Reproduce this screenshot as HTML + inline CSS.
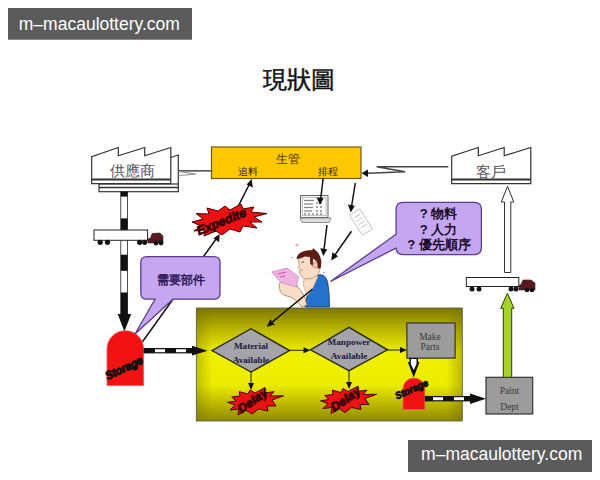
<!DOCTYPE html>
<html><head><meta charset="utf-8">
<style>
html,body{margin:0;padding:0;background:#fff;width:600px;height:480px;overflow:hidden;}
body{position:relative;font-family:"Liberation Sans",sans-serif;}
.wm{position:absolute;background:#5b5b5b;color:#fff;font-size:19px;line-height:32px;height:32px;text-align:center;}
svg{position:absolute;left:0;top:0;}
</style></head><body>
<svg width="600" height="480" viewBox="0 0 600 480" font-family="Liberation Sans, sans-serif">
<defs>
  <linearGradient id="pg" x1="0" y1="0" x2="0" y2="1">
    <stop offset="0" stop-color="#7e7800"/>
    <stop offset="0.2" stop-color="#bdb900"/>
    <stop offset="0.4" stop-color="#f0f000"/>
    <stop offset="0.68" stop-color="#ecec00"/>
    <stop offset="1" stop-color="#908a00"/>
  </linearGradient>
  <linearGradient id="pgh" x1="0" y1="0" x2="1" y2="0">
    <stop offset="0" stop-color="#706800" stop-opacity="0.35"/>
    <stop offset="0.06" stop-color="#706800" stop-opacity="0"/>
    <stop offset="0.94" stop-color="#706800" stop-opacity="0"/>
    <stop offset="1" stop-color="#706800" stop-opacity="0.4"/>
  </linearGradient>
  <marker id="ah" markerWidth="8" markerHeight="8" refX="7" refY="4" orient="auto" markerUnits="userSpaceOnUse">
    <path d="M0,0 L8,4 L0,8 z" fill="#111"/>
  </marker>
</defs>

<!-- title -->
<text x="298.5" y="88" font-size="23.5" text-anchor="middle" fill="#111" stroke="#111" stroke-width="0.5">現狀圖</text>

<!-- supplier factory -->
<g fill="#fff" stroke="#333" stroke-width="1.2">
  <path d="M170.8,157.5 L178.3,155 L178.3,188" fill="none"/>
  <rect x="99" y="184" width="79.3" height="7.7"/>
  <path d="M91.7,183.7 L91.7,156.7 L118.3,147.5 L118.3,155.8 L144.7,147.5 L144.7,155.8 L170.8,147.5 L170.8,183.7 Z"/>
  <line x1="91.7" y1="179.5" x2="170.8" y2="179.5" stroke-width="2"/>
  <line x1="99" y1="187.5" x2="178.3" y2="187.5" stroke-width="1.5"/>
</g>
<text x="132" y="176" font-size="15" text-anchor="middle" fill="#555">供應商</text>

<!-- customer factory -->
<g fill="#fff" stroke="#333" stroke-width="1.2">
  <path d="M451.7,183.7 L451.7,156.3 L478.3,147.5 L478.3,155.8 L504.2,147.5 L504.2,155.8 L530.8,147.5 L530.8,183.7 Z"/>
  <line x1="451.7" y1="179.5" x2="530.8" y2="179.5" stroke-width="2"/>
</g>
<text x="491" y="176.5" font-size="15" text-anchor="middle" fill="#555">客戶</text>

<!-- production control box -->
<rect x="211.5" y="147" width="149.5" height="31.5" fill="#fdc800" stroke="#6e5a10" stroke-width="1.2"/>
<text x="288" y="162.5" font-size="12" text-anchor="middle" fill="#4a3a00">生管</text>
<text x="248" y="175" font-size="9.5" text-anchor="middle" fill="#2e2400">追料</text>
<text x="328" y="175" font-size="9.5" text-anchor="middle" fill="#2e2400">排程</text>

<!-- info lines -->
<line x1="178.3" y1="170.8" x2="211.5" y2="170.8" stroke="#222" stroke-width="1.3"/>
<path d="M178.5,171.5 L196,174.2 L178.5,175.5" fill="none" stroke="#999" stroke-width="1.2"/>
<path d="M448.3,166.7 L376.7,166.7 L405,171.7 L368,173.3" fill="none" stroke="#444" stroke-width="1.4"/>
<path d="M368,169.5 L361.5,173.3 L368,177 z" fill="#111"/>


<!-- supplier pole (black/white) -->
<g>
  <rect x="120.8" y="191.7" width="6.8" height="122.5" fill="#fff" stroke="#222" stroke-width="0.8"/>
  <rect x="120.8" y="191.7" width="6.8" height="4.9" fill="#111"/>
  <rect x="120.8" y="218.4" width="6.8" height="11.6" fill="#111"/>
  <rect x="120.8" y="254.7" width="6.8" height="16.1" fill="#111"/>
  <rect x="120.8" y="292.5" width="6.8" height="22" fill="#111"/>
  <path d="M117.7,314 L131.2,314 L124.4,331.5 Z" fill="#111"/>
</g>
<!-- left truck -->
<g>
  <rect x="94" y="230" width="53.6" height="10.3" fill="#fff" stroke="#222" stroke-width="1"/>
  <circle cx="100.2" cy="242.3" r="2.6" fill="#111"/>
  <circle cx="107.5" cy="242.3" r="2.6" fill="#111"/>
  <circle cx="139.6" cy="242.3" r="2.6" fill="#111"/>
  <circle cx="144.7" cy="242.3" r="2.6" fill="#111"/>
  <path d="M147.6,239 L150.5,238 L152,233.5 L160,233 L163,236 L163,243 L148,243 Z" fill="#5a1820" stroke="#222" stroke-width="0.6"/>
  <circle cx="156" cy="243" r="2.4" fill="#111"/>
  <circle cx="161" cy="243" r="2.4" fill="#111"/>
</g>
<!-- right truck -->
<g>
  <rect x="466.3" y="277.5" width="52.5" height="9" fill="#fff" stroke="#222" stroke-width="1"/>
  <circle cx="472" cy="289" r="2.5" fill="#111"/>
  <circle cx="479" cy="289" r="2.5" fill="#111"/>
  <circle cx="511" cy="289" r="2.5" fill="#111"/>
  <circle cx="516" cy="289" r="2.5" fill="#111"/>
  <path d="M518.8,285.5 L521,284.5 L523,280 L531,280 L535,283 L535,290 L519,290 Z" fill="#5a1820" stroke="#222" stroke-width="0.6"/>
  <circle cx="527" cy="290" r="2.3" fill="#111"/>
  <circle cx="532" cy="290" r="2.3" fill="#111"/>
</g>
<!-- hollow arrow up to customer -->
<path d="M504.5,272.5 L504.5,202 L501.3,202 L507.5,186.3 L513.8,202 L510.8,202 L510.8,272.5 Z" fill="#fff" stroke="#333" stroke-width="1"/>

<!-- big panel -->
<rect x="196.3" y="308" width="266" height="113" fill="url(#pg)" stroke="#555" stroke-width="0.8"/>
<rect x="196.3" y="308" width="266" height="113" fill="url(#pgh)"/>


<!-- diamonds -->
<g stroke="#2a2a10" stroke-width="1.4">
  <path d="M212,350.6 L251,328.7 L289.6,350.6 L251,372 Z" fill="#a4a4aa"/>
  <path d="M310.4,349.8 L349,327.3 L387.5,349.8 L349,370.6 Z" fill="#a4a4aa"/>
</g>
<g font-family="Liberation Serif, serif" font-weight="bold" font-size="9.2" fill="#1a1a3a" text-anchor="middle">
  <text x="251" y="348.5">Material</text>
  <text x="251" y="362.5">Available</text>
  <text x="349" y="345">Manpower</text>
  <text x="349" y="359">Available</text>
</g>
<!-- connectors -->
<g stroke="#222" stroke-width="1" fill="#111">
  <line x1="289.6" y1="350.3" x2="305" y2="350.3"/>
  <path d="M303.5,347.3 L310.4,350.3 L303.5,353.3 Z" stroke="none"/>
  <line x1="387.5" y1="350" x2="401" y2="350"/>
  <path d="M400,347 L407,350 L400,353 Z" stroke="none"/>
  <line x1="251" y1="372" x2="251" y2="384"/>
  <path d="M248,383 L251,390 L254,383 Z" stroke="none"/>
  <line x1="349" y1="370.6" x2="349" y2="383"/>
  <path d="M346,382 L349,389 L352,382 Z" stroke="none"/>
</g>
<!-- make parts -->
<rect x="406.9" y="323" width="48.2" height="35.1" fill="#9c9c9c" stroke="#333" stroke-width="1.2"/>
<g font-family="Liberation Serif, serif" font-size="9.5" fill="#3a3a3a" text-anchor="middle">
  <text x="430" y="339.5">Make</text>
  <text x="430" y="350">Parts</text>
</g>
<!-- make parts down arrow -->
<path d="M409.5,358 L418,358 L418,362 L419.5,362 L413.7,377.5 L407.8,362 L409.5,362 Z" fill="#111"/>
<path d="M411,359 L416.5,359 L416.5,364 L413.7,370 L410.8,364 Z" fill="#fff"/>

<!-- paint dept -->
<rect x="486" y="377.3" width="46.7" height="36.7" fill="#9c9c9c" stroke="#333" stroke-width="1.2"/>
<g font-family="Liberation Serif, serif" font-size="9.5" fill="#3a3a3a" text-anchor="middle">
  <text x="509.5" y="394">Paint</text>
  <text x="509.5" y="410">Dept</text>
</g>
<!-- green arrow -->
<path d="M503.3,377.3 L503.3,308.3 L500.7,308.3 L507.4,293.3 L514,308.3 L511.7,308.3 L511.7,377.3 Z" fill="#a8d22a" stroke="#2a3a10" stroke-width="1"/>

<!-- storage 1 -->
<path d="M107,385.6 L107,349 A18.3,18.3 0 0 1 143.6,349 L143.6,385.6 Z" fill="#f21212" stroke="#e06060" stroke-width="0.8"/>
<text x="0" y="0" font-size="11.5" font-weight="bold" font-style="italic" fill="#111" stroke="#111" stroke-width="1.1" textLength="40" lengthAdjust="spacingAndGlyphs" transform="translate(107.5,380) rotate(-25)">Storage</text>
<!-- storage 2 -->
<path d="M403,409.5 L403,389 A10.9,10.9 0 0 1 424.8,389 L424.8,409.5 Z" fill="#f21212" stroke="#e06060" stroke-width="0.8"/>
<text x="0" y="0" font-size="10" font-weight="bold" font-style="italic" fill="#111" stroke="#111" stroke-width="0.9" textLength="35" lengthAdjust="spacingAndGlyphs" transform="translate(397,399.5) rotate(-24)">Storage</text>

<!-- dashed arrows -->
<g>
  <rect x="143.6" y="348" width="50" height="5.4" fill="#111"/>
  <rect x="155" y="349.2" width="10" height="3" fill="#fff"/>
  <rect x="176" y="349.2" width="10" height="3" fill="#fff"/>
  <path d="M192,345.8 L207.5,350.7 L192,355.6 Z" fill="#111"/>
  <rect x="424.8" y="396" width="48" height="5.4" fill="#111"/>
  <rect x="433" y="397.2" width="10" height="3" fill="#fff"/>
  <rect x="454" y="397.2" width="10" height="3" fill="#fff"/>
  <path d="M470,393.5 L486,398.7 L470,404 Z" fill="#111"/>
</g>


<!-- computer icon -->
<g>
  <rect x="300.5" y="195.5" width="27.5" height="22" fill="#f4f4f4" stroke="#666" stroke-width="1"/>
  <rect x="302.5" y="197.5" width="23.5" height="18" fill="#fff" stroke="#999" stroke-width="0.6"/>
  <g stroke="#888" stroke-width="1.3">
    <line x1="304" y1="200.5" x2="314" y2="200.5"/>
    <line x1="304" y1="204" x2="313" y2="204"/>
    <line x1="304" y1="207.5" x2="313" y2="207.5"/>
    <line x1="304" y1="211" x2="312" y2="211"/>
    <line x1="316" y1="203" x2="324" y2="203" stroke-dasharray="2,2"/>
    <line x1="316" y1="207" x2="324" y2="207" stroke-dasharray="2,2"/>
    <line x1="316" y1="211" x2="324" y2="211" stroke-dasharray="2,2"/>
    <line x1="304" y1="214" x2="324" y2="214" stroke-dasharray="2,2"/>
  </g>
  <path d="M300,218 L331,218 L329,222.5 L302,222.5 Z" fill="#ddd" stroke="#777" stroke-width="0.8"/>
</g>
<!-- paper icon -->
<g transform="translate(361,222) rotate(-33)">
  <rect x="-6" y="-12" width="12" height="24" fill="#fbfbfb" stroke="#c4c4c4" stroke-width="0.9"/>
  <g stroke="#d0d0d0" stroke-width="1">
    <line x1="-3.5" y1="-7" x2="3.5" y2="-7"/>
    <line x1="-3.5" y1="-3" x2="3.5" y2="-3"/>
    <line x1="-3.5" y1="1" x2="3.5" y2="1"/>
    <line x1="-3.5" y1="5" x2="3.5" y2="5"/>
  </g>
</g>

<!-- man -->
<g>
  <!-- shirt -->
  <path d="M305,307 L306.5,298 Q309,289 313,282 L318,275 Q324,273.5 327,280 Q329.5,289 329.5,307 Z" fill="#2472cc" stroke="#1a3560" stroke-width="0.8"/>
  <!-- neck -->
  <path d="M305,274 L314,272 L318,277 L312,290 L307,296 L303,284 Z" fill="#f7dcc6" stroke="#9a6a50" stroke-width="0.4"/>
  <!-- face -->
  <path d="M298.5,258 Q304,251 313,254 L320,262 Q321,270 318,275 Q312,280 305,279 L301,276 L299,272 L300,269.5 L298,267.5 L299.5,265.5 L298.5,262 Z" fill="#f7dcc6" stroke="#8a5a40" stroke-width="0.5"/>
  <path d="M301.5,262.5 l2.5,-0.8" stroke="#333" stroke-width="0.8"/>
  <path d="M300.5,270 l2,0.3" stroke="#8a5a40" stroke-width="0.6"/>
  <!-- hair -->
  <path d="M296.2,258.8 Q298,253.5 300.8,252.6 Q304,250.8 306.7,250.5 L312.5,250 L313,248 L316.7,251.3 Q320,254 321.3,261 Q321.5,266 320.4,268.5 L317.8,268.5 L317,261.5 L313,258.5 L312.8,266 L310.3,264 L310,257 L305,256.5 L300,258.5 Z" fill="#5c1c16"/>
  <!-- ear -->
  <ellipse cx="315.2" cy="265" rx="2.3" ry="3" fill="#f2cdb2" stroke="#8a5a40" stroke-width="0.5"/>
  <!-- arm/hands -->
  <path d="M279,284 Q281,280 287,281 L296,285 Q301,289 305,298 L307,305 L302,307 Q297,301 291,297 Q283,296 280,291 Z" fill="#f7dcc6" stroke="#8a5a40" stroke-width="0.6"/>
  <!-- pink paper -->
  <path d="M271.8,272 L287,268 L298.5,276.5 L296.4,287 L281,282.5 Z" fill="#f0b2e0" stroke="#c070b0" stroke-width="0.6"/>
  <path d="M278,274 L286,272 M280,277 L285,276" stroke="#d050b0" stroke-width="1.1"/>
  <!-- sweat -->
  <g fill="none" stroke="#999" stroke-width="0.8">
    <path d="M295.5,245 q1.5,-2.5 3,0 q-1.5,2 -3,0"/>
    <path d="M291,258 q1,-2 2,0"/>
    <path d="M323,273 q1,-2 2,0"/>
    <path d="M322,252 q1,-2 2,0"/>
  </g>
</g>

<!-- arrows / lines (thin black) -->
<g stroke="#111" stroke-width="1.5" fill="none">
  <line x1="142.5" y1="341.7" x2="217.5" y2="237"/>
  <line x1="237.7" y1="207.3" x2="250.5" y2="182"/>
  <line x1="323.2" y1="178" x2="320.4" y2="201"/>
  <line x1="327" y1="225" x2="323.7" y2="252"/>
  <line x1="355.3" y1="183" x2="351.2" y2="208.5"/>
  <line x1="351.5" y1="231.2" x2="333.5" y2="257"/>
  <line x1="312.5" y1="289" x2="269.5" y2="324.4"/>
</g>
<g fill="#111">
  <path d="M219.7,234 L219.2,242.2 L213.5,238.2 Z"/>
  <path d="M251.7,179 L252.8,187.5 L246.6,184.4 Z"/>
  <path d="M320,205 L316.6,197.5 L323.6,198.3 Z"/>
  <path d="M323.3,256 L320.2,248.3 L327.2,249.2 Z"/>
  <path d="M350.8,212.5 L347.9,204.6 L354.8,205.7 Z"/>
  <path d="M331.2,260.5 L332.4,252.2 L338.2,256.2 Z"/>
  <path d="M266.7,326.7 L270.3,319.2 L274.7,324.6 Z"/>
</g>

<!-- Expedite burst -->
<polygon points="192,222 203,219 196,213.5 209,214 207,208 218,211 225,206 230,210 241,204 243,209 254,207 251,212 267,213.5 254,217 262,222 250,222 257,228 243,226 240,232 230,229 222,235 216,231 204,236 205,230 194,231 201,226" fill="#ec1212" stroke="#4a0000" stroke-width="1"/>
<text x="0" y="0" font-size="12.5" font-weight="bold" font-style="italic" fill="#3a0008" stroke="#2a0005" stroke-width="0.7" text-anchor="middle" transform="translate(223,225.5) rotate(-22)">Expedite</text>

<!-- Delay bursts -->
<polygon points="227.6,402.3 236,401 231.7,397 240,396 239.3,391.7 248,394 250,390 255,393 265,387.6 264,393 274,391.7 270,396 283.6,395.8 272,400 276,406 267,406 268,411 258.5,409 252,414 246,410 238,415 239,409 230,410 235,405" fill="#ec1212" stroke="#4a0000" stroke-width="1"/>
<text x="0" y="0" font-size="12.5" font-weight="bold" font-style="italic" fill="#3a0008" stroke="#2a0005" stroke-width="0.7" text-anchor="middle" transform="translate(255,404) rotate(-35)">Delay</text>
<polygon points="320.6,400.8 329.0,399.5 324.7,395.5 333.0,394.5 332.3,390.2 341.0,392.5 343.0,388.5 348.0,391.5 358.0,386.1 357.0,391.5 367.0,390.2 363.0,394.5 376.6,394.3 365.0,398.5 369.0,404.5 360.0,404.5 361.0,409.5 351.5,407.5 345.0,412.5 339.0,408.5 331.0,413.5 332.0,407.5 323.0,408.5 328.0,403.5" fill="#ec1212" stroke="#4a0000" stroke-width="1"/>
<text x="0" y="0" font-size="12.5" font-weight="bold" font-style="italic" fill="#3a0008" stroke="#2a0005" stroke-width="0.7" text-anchor="middle" transform="translate(348,402.5) rotate(-35)">Delay</text>

<!-- bubble 需要部件 -->
<path d="M146.8,256.7 H214 Q220,256.7 220,262.7 V293.2 Q220,299.2 214,299.2 H173 L135,334 L155,299.2 H146.8 Q140.8,299.2 140.8,293.2 V262.7 Q140.8,256.7 146.8,256.7 Z" fill="#c5a6f0" stroke="#5a3d8c" stroke-width="1.3"/>
<text x="180.5" y="284" font-size="12" text-anchor="middle" fill="#2a1050" stroke="#2a1050" stroke-width="0.45">需要部件</text>

<!-- bubble 物料 -->
<path d="M403.1,202.3 H474.4 Q481.4,202.3 481.4,209.3 V247.6 Q481.4,254.6 474.4,254.6 H403.1 Q396.1,254.6 396.1,247.6 V248 L330.5,281.5 L396.1,234.2 V209.3 Q396.1,202.3 403.1,202.3 Z" fill="#c5a6f0" stroke="#5a3d8c" stroke-width="1.3"/>
<g font-size="13" font-weight="bold" fill="#1a0a2a" text-anchor="middle">
  <text x="438.5" y="218">? 物料</text>
  <text x="438.5" y="233.5">? 人力</text>
  <text x="439" y="249">? 優先順序</text>
</g>

<!-- watermarks are html -->
</svg>
<svg width="600" height="480" viewBox="0 0 600 480">
<rect x="8" y="8" width="184" height="31.7" fill="#5b5b5b"/>
<text x="18.8" y="30" font-family="Liberation Sans, sans-serif" font-size="17.5" fill="#fff">m–macaulottery.com</text>
<rect x="408" y="440" width="184" height="32" fill="#5b5b5b"/>
<text x="421.1" y="460" font-family="Liberation Sans, sans-serif" font-size="17.5" fill="#fff">m–macaulottery.com</text>
</svg>
</body></html>
